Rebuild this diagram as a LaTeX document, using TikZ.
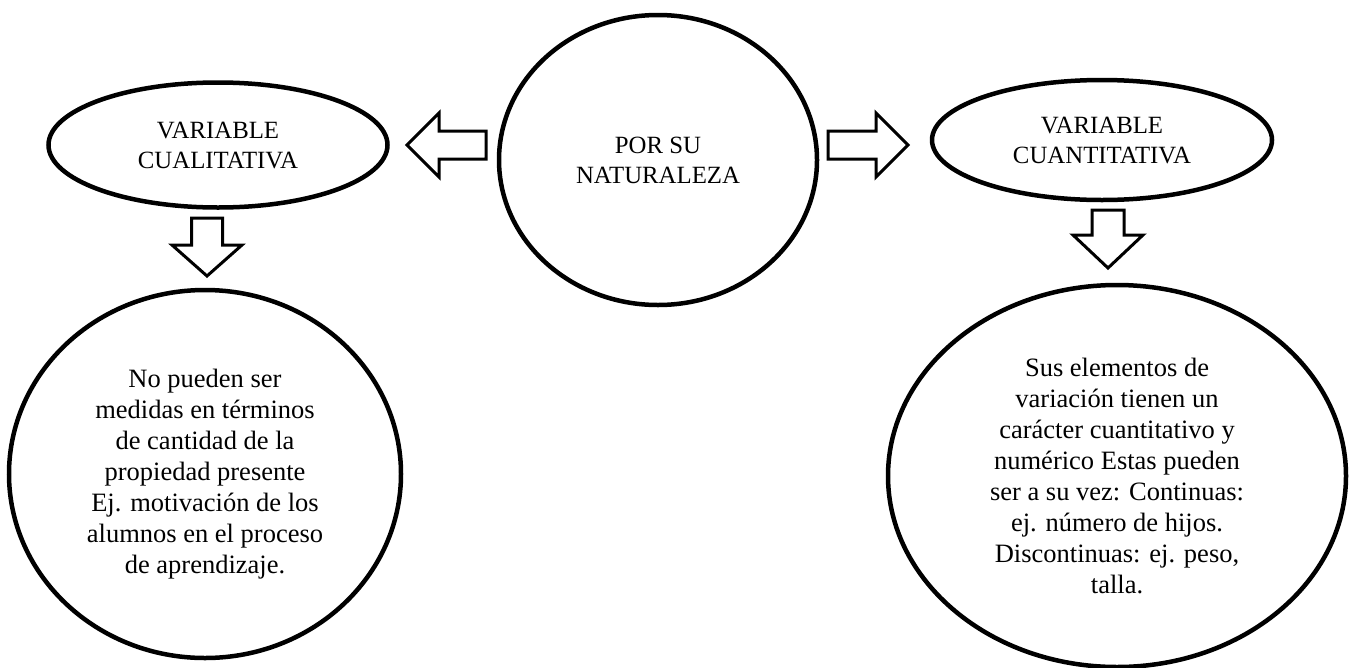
\documentclass[tikz,border=0pt]{standalone}
\usepackage{fontspec}
\setmainfont{Liberation Serif}
\usetikzlibrary{shapes.geometric}
\begin{document}
\begin{tikzpicture}[x=1pt,y=-1pt,
  oval/.style={ellipse,draw,line width=4.5pt,inner sep=0pt,align=center},
  headtext/.style={font=\fontsize{24.8}{30}\selectfont},
  bodytext/.style={font=\fontsize{26.5}{31}\selectfont},
  blockarrow/.style={draw,line width=3pt,fill=white,line join=miter}]
\useasboundingbox (0,0) rectangle (1356,667);
\node[oval,headtext,minimum width=318pt,minimum height=290pt] (nat) at (658,160) {POR SU\\NATURALEZA};
\node[oval,headtext,minimum width=339pt,minimum height=125pt] (cual) at (218,145) {VARIABLE\\CUALITATIVA};
\node[oval,headtext,minimum width=340pt,minimum height=120pt] (cuan) at (1102,140) {VARIABLE\\CUANTITATIVA};
\node[oval,bodytext,minimum width=392pt,minimum height=368pt] (defcual) at (205,474) {No pueden ser\\medidas en términos\\de cantidad de la\\propiedad presente\\Ej. motivación de los\\alumnos en el proceso\\de aprendizaje.};
\node[oval,bodytext,minimum width=458pt,minimum height=382pt] (defcuan) at (1117,476) {Sus elementos de\\variación tienen un\\carácter cuantitativo y\\numérico Estas pueden\\ser a su vez: Continuas:\\ej. número de hijos.\\Discontinuas: ej. peso,\\talla.};
% left block arrow
\draw[blockarrow] (407,145) -- (439,113) -- (439,131) -- (486,131) -- (486,159) -- (439,159) -- (439,177) -- cycle;
% right block arrow
\draw[blockarrow] (908,145) -- (876,113) -- (876,131) -- (828,131) -- (828,159) -- (876,159) -- (876,177) -- cycle;
% left down arrow
\draw[blockarrow] (207,276) -- (172,245) -- (191.5,245) -- (191.5,218) -- (222.5,218) -- (222.5,245) -- (242,245) -- cycle;
% right down arrow
\draw[blockarrow] (1108,268) -- (1073,235) -- (1092,235) -- (1092,210) -- (1124,210) -- (1124,235) -- (1143,235) -- cycle;
\end{tikzpicture}
\end{document}
